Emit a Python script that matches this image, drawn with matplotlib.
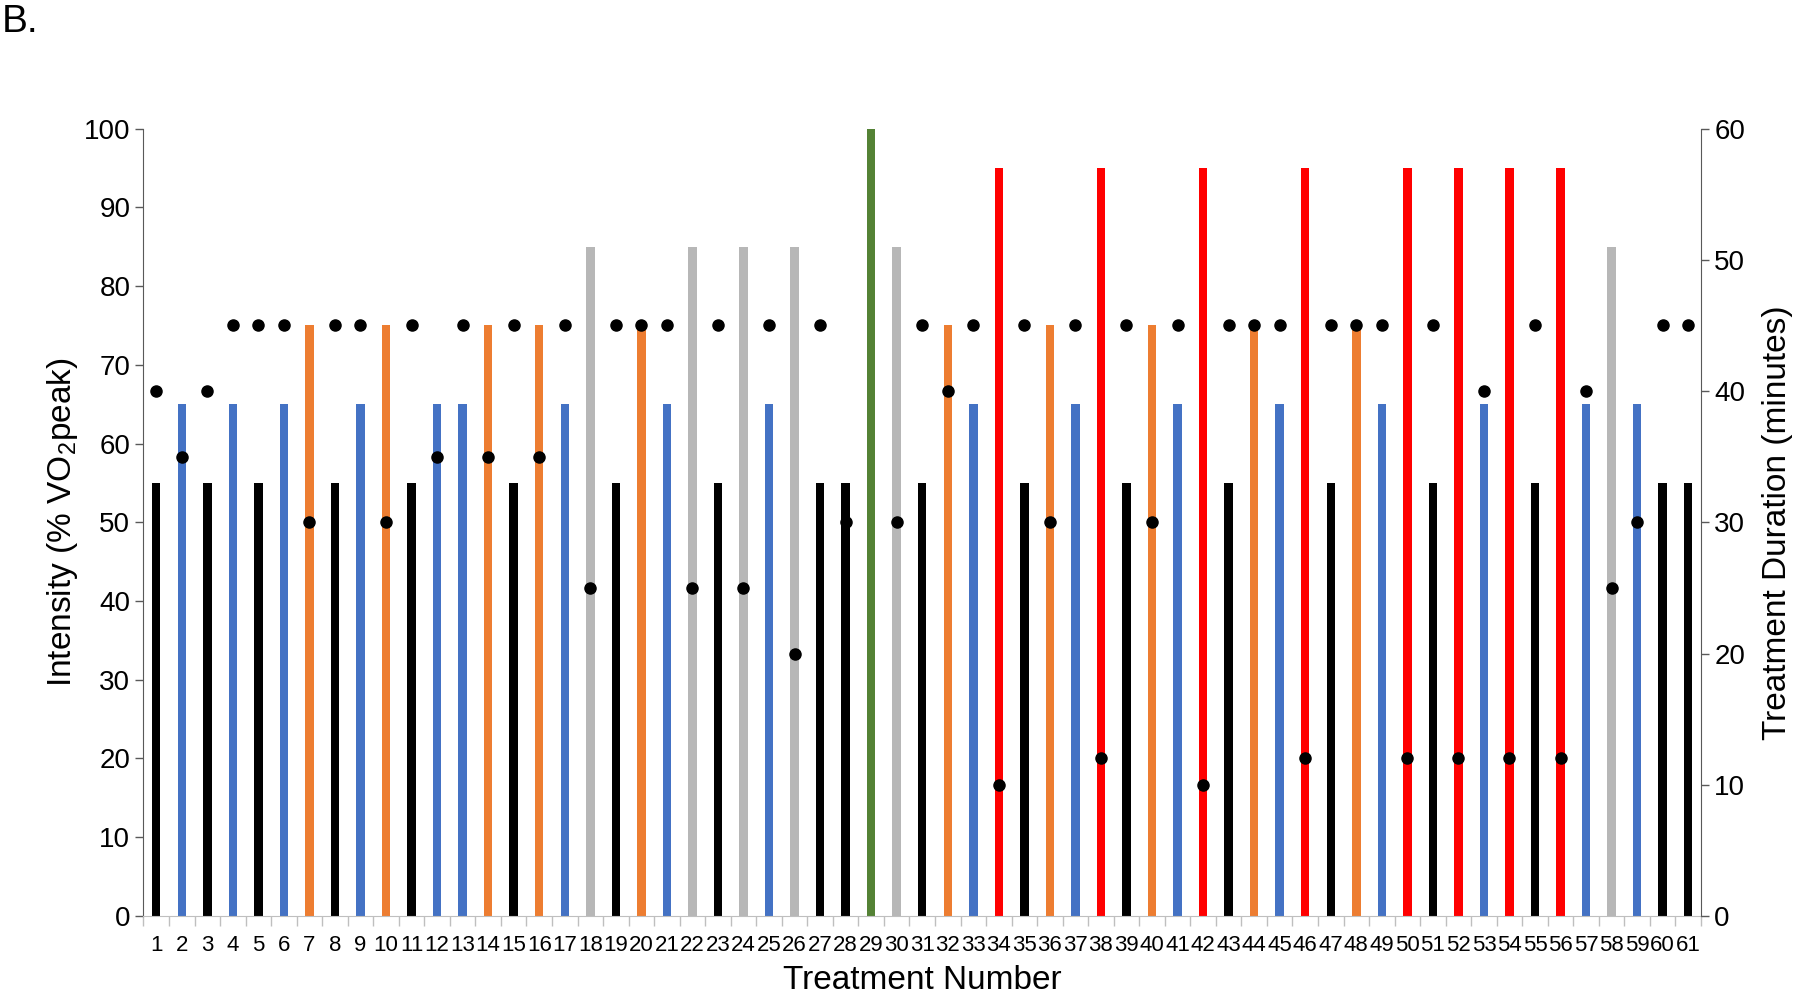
import matplotlib
matplotlib.use("Agg")
import matplotlib.pyplot as plt
import numpy as np

plt.rcParams['font.family'] = ['Liberation Sans', 'DejaVu Sans']
plt.rcParams['mathtext.fontset'] = 'custom'
plt.rcParams['mathtext.rm'] = 'Liberation Sans'
plt.rcParams['mathtext.it'] = 'Liberation Sans:italic'

treatments = list(range(1, 62))
intensity = [55, 65, 55, 65, 55, 65, 75, 55, 65, 75,
             55, 65, 65, 75, 55, 75, 65, 85, 55, 75,
             65, 85, 55, 85, 65, 85, 55, 55, 100, 85,
             55, 75, 65, 95, 55, 75, 65, 95, 55, 75,
             65, 95, 55, 75, 65, 95, 55, 75, 65, 95,
             55, 95, 65, 95, 55, 95, 65, 85, 65, 55, 55]
group = ['k', 'b', 'k', 'b', 'k', 'b', 'o', 'k', 'b', 'o',
         'k', 'b', 'b', 'o', 'k', 'o', 'b', 'g', 'k', 'o',
         'b', 'g', 'k', 'g', 'b', 'g', 'k', 'k', 'G', 'g',
         'k', 'o', 'b', 'r', 'k', 'o', 'b', 'r', 'k', 'o',
         'b', 'r', 'k', 'o', 'b', 'r', 'k', 'o', 'b', 'r',
         'k', 'r', 'b', 'r', 'k', 'r', 'b', 'g', 'b', 'k', 'k']
duration = [40, 35, 40, 45, 45, 45, 30, 45, 45, 30,
            45, 35, 45, 35, 45, 35, 45, 25, 45, 45,
            45, 25, 45, 25, 45, 20, 45, 30, np.nan, 30,
            45, 40, 45, 10, 45, 30, 45, 12, 45, 30,
            45, 10, 45, 45, 45, 12, 45, 45, 45, 12,
            45, 12, 40, 12, 45, 12, 40, 25, 30, 45, 45]

palette = {'k': '#000000', 'b': '#4472C4', 'o': '#ED7D31',
           'g': '#B7B7B7', 'G': '#548235', 'r': '#FF0000'}
colors = [palette[c] for c in group]

fig = plt.figure(figsize=(18, 9.97), dpi=100)
ax = fig.add_axes([0.0797, 0.0813, 0.8653, 0.7897])
ax.bar(treatments, intensity, width=0.33, color=colors, zorder=2)
ax.set_xlim(0.5, 61.5)
ax.set_ylim(0, 100)
ax.set_yticks(range(0, 101, 10))
ax.set_xticks(treatments)
ax.set_xticklabels([str(t) for t in treatments], fontsize=16)
ax.set_xticks(np.arange(0.5, 62, 1), minor=True)
ax.tick_params(axis='x', which='major', length=0, pad=14)
ax.tick_params(axis='x', which='minor', length=7, color='#BFBFBF', width=1)
ax.tick_params(axis='y', labelsize=20, length=6, color='#595959', width=1)
for s in ['top', 'right']:
    ax.spines[s].set_visible(False)
ax.spines['left'].set_color('#595959')
ax.spines['bottom'].set_color('#BFBFBF')
ax.set_xlabel('Treatment Number', fontsize=24, labelpad=6)
ax.set_ylabel('Intensity (% VO$_2$peak)', fontsize=24, labelpad=3)

ax2 = ax.twinx()
ax2.plot(treatments, duration, 'o', color='black', markersize=8, zorder=3)
ax2.set_ylim(0, 60)
ax2.set_yticks(range(0, 61, 10))
ax2.tick_params(axis='y', labelsize=20, length=6, color='#595959', width=1)
for s in ['top', 'left', 'bottom']:
    ax2.spines[s].set_visible(False)
ax2.spines['right'].set_color('#595959')
ax2.set_ylabel('Treatment Duration (minutes)', fontsize=24, labelpad=12)

fig.text(0.001, 0.978, 'B.', fontsize=28, ha='left', va='center')

fig.savefig('out.png', dpi=100)
